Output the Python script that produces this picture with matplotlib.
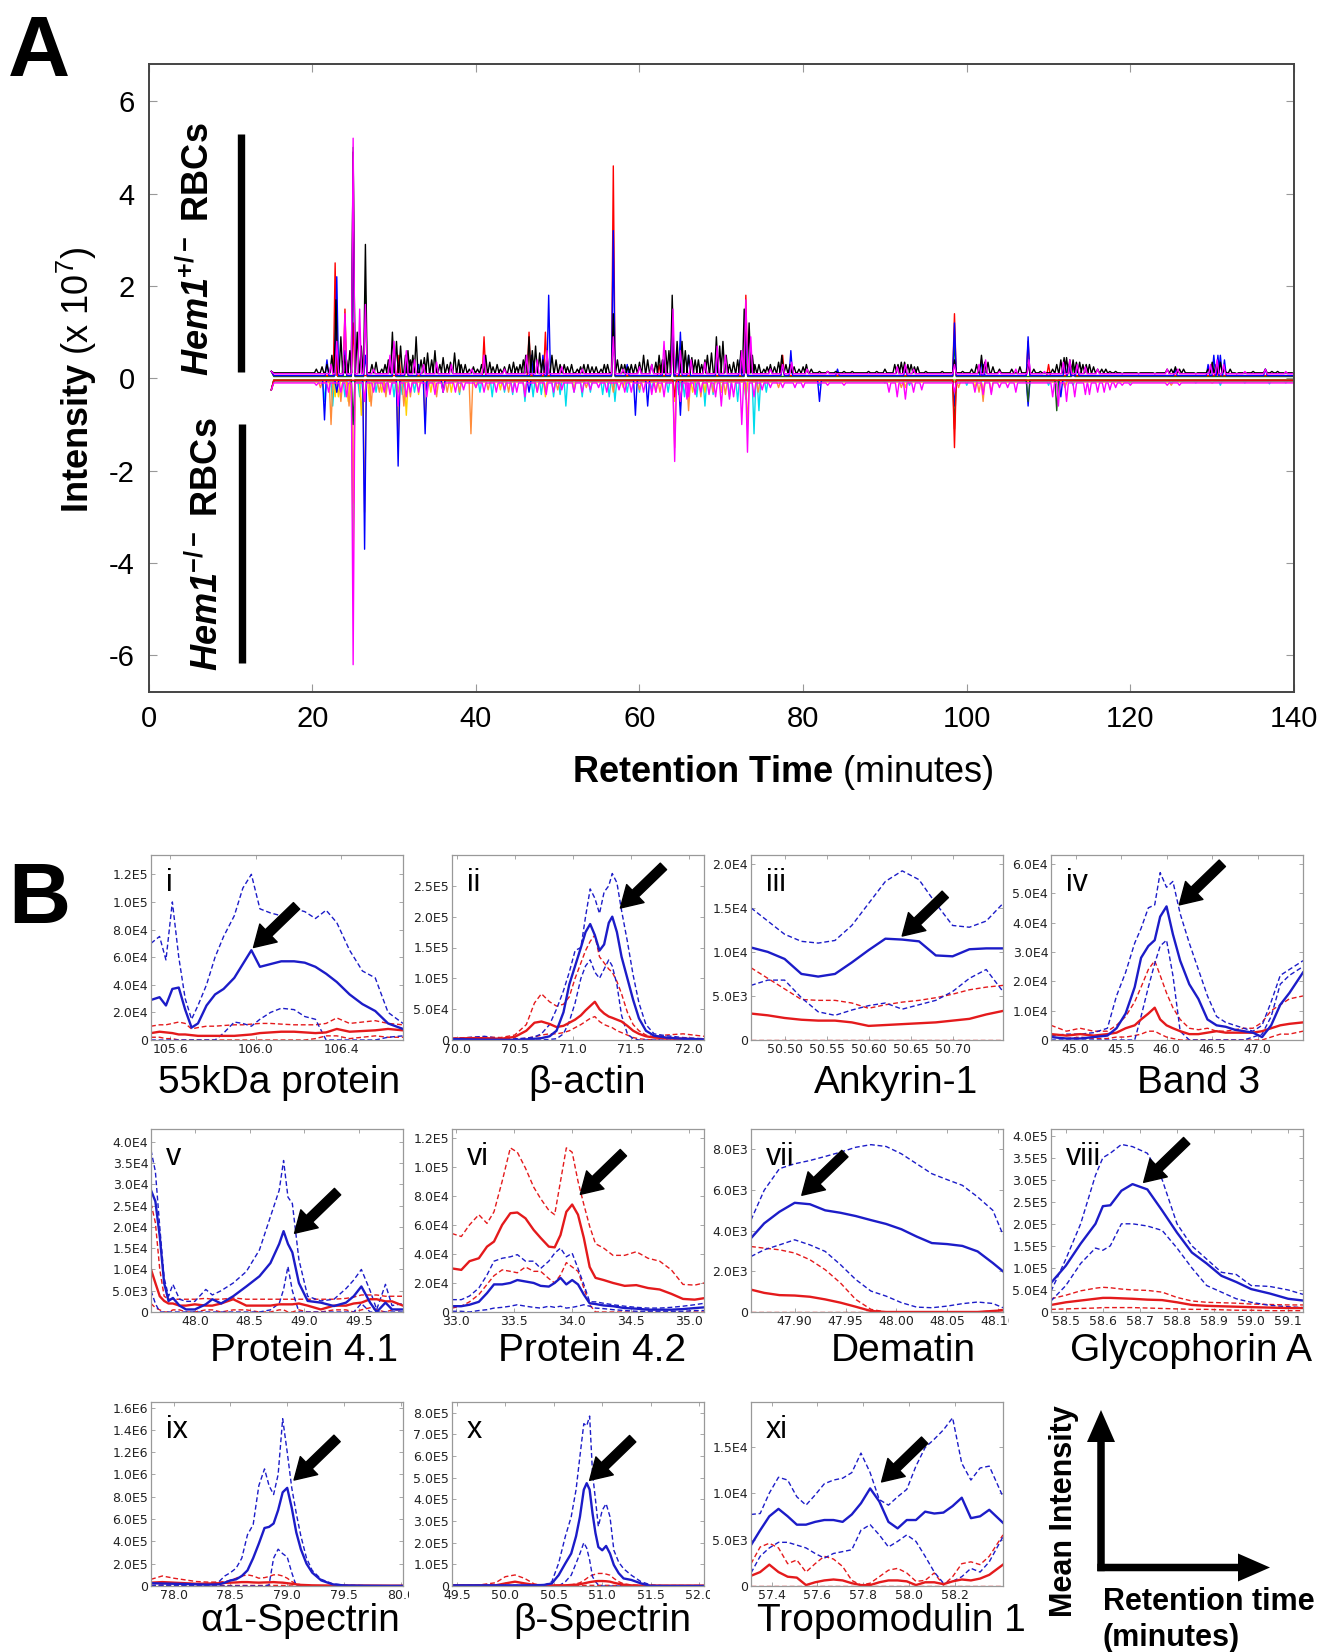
import matplotlib
matplotlib.use("Agg")
import matplotlib.pyplot as plt
from matplotlib.ticker import FixedLocator, FuncFormatter, FormatStrFormatter
from matplotlib.transforms import Bbox, TransformedBbox
from matplotlib.patches import FancyArrow

# region DATA - panel A (peak lists: retention time in min, intensity in 1e7)
black_peaks = [(21.8, .3), (22.4, .5), (22.9, 1.7), (23.5, .9), (24.2, .4), (25.0, 4.9), (25.5, 1.0), (26.5, 2.9),
               (27.3, .3), (28.5, .2), (29.3, .4), (29.8, 1.0), (30.3, .8), (30.8, .7), (31.4, .5), (32.0, .4),
               (32.7, .9), (33.3, .4), (34.1, .55), (35.0, .6), (35.6, .3), (36.5, .3), (37.4, .55), (38.2, .3),
               (39.2, .2), (40.2, .2), (41.2, .5), (42.1, .25), (43.0, .2), (44.1, .3), (45.0, .25), (45.8, .4),
               (46.5, .9), (47.3, .7), (48.2, .4), (49.3, .5), (50.3, .3), (51.2, .25), (52.4, .2), (53.2, .3),
               (54.2, .25), (55.3, .2), (56.1, .3), (56.8, 1.4), (57.8, .3), (58.6, .25), (59.5, .3), (60.5, .5),
               (61.5, .3), (62.4, .5), (63.2, .6), (64.0, 1.8), (64.6, .8), (65.2, .8), (66.0, .5), (66.8, .4),
               (67.6, .3), (68.3, .5), (69.4, .9), (70.2, .8), (71.0, .3), (72.0, .4), (72.8, 1.5), (73.4, 1.2),
               (74.1, .3), (75.2, .2), (76.5, .25), (77.4, .5), (78.4, .3), (79.5, .2), (80.4, .3), (82.0, .15),
               (84.0, .15), (86.0, .15), (88.0, .15), (90.0, .2), (91.2, .3), (92.0, .35), (92.8, .3), (93.6, .25),
               (95.0, .15), (97.0, .15), (98.5, .4), (101.2, .3), (101.8, .5), (102.6, .35), (104.0, .2),
               (105.5, .2), (106.5, .25), (107.5, .3), (109.0, .15), (110.5, .2), (111.5, .4), (112.2, .45),
               (113.0, .4), (113.8, .35), (114.6, .3), (115.5, .25), (116.5, .2), (117.5, .15), (119.0, .1),
               (121.0, .1), (123.0, .1), (124.5, .2), (125.5, .25), (126.5, .2), (128.0, .1), (129.5, .2),
               (130.5, .3), (131.5, .2), (133.0, .1), (135.0, .15), (136.5, .2), (138.0, .15), (140.0, .1)]
black_small_peaks = [(20.5, .2), (21.2, .25), (23.9, .5), (24.6, .6), (26.0, .7), (27.8, .35), (28.9, .3),
                     (31.7, .6), (32.3, .5), (33.7, .45), (34.6, .4), (36.0, .45), (36.9, .35), (37.9, .4),
                     (38.7, .3), (39.7, .25), (40.7, .3), (41.7, .35), (42.6, .3), (43.5, .25), (44.6, .35),
                     (45.4, .3), (46.1, .5), (46.9, .6), (47.8, .55), (48.7, .5), (49.8, .4), (50.8, .3), (51.7, .3),
                     (52.8, .25), (53.7, .3), (54.7, .25), (55.7, .3), (57.3, .4), (58.2, .3), (59.0, .3),
                     (60.0, .35), (61.0, .4), (62.0, .35), (62.8, .4), (63.6, .6), (65.6, .6), (66.4, .45),
                     (67.2, .4), (68.0, .4), (68.8, .55), (69.8, .7), (70.6, .5), (71.5, .35), (72.4, .6), (73.8, .5),
                     (74.6, .3), (75.6, .25), (76.0, .3), (77.0, .35), (77.9, .3), (78.9, .25), (80.0, .25),
                     (81.0, .2), (83.0, .15), (85.0, .15), (87.0, .12), (89.0, .15), (91.6, .3), (92.4, .35),
                     (93.2, .3), (94.0, .25), (96.0, .12), (99.5, .15), (100.6, .2), (102.2, .35), (103.2, .25),
                     (108.2, .2), (111.0, .3), (111.9, .45), (112.6, .4), (113.4, .35), (114.2, .3), (115.0, .3),
                     (116.0, .2), (117.0, .2), (118.2, .15), (125.0, .2), (126.0, .2), (130.0, .35), (131.0, .35),
                     (132.2, .2), (134.0, .12), (137.3, .15), (139.0, .12)]
magenta_peaks = [(22.3, .3), (23.0, .8), (24.0, 1.4), (25.0, 5.2), (25.8, 1.5), (26.5, 1.6), (27.5, .2), (29.5, .5),
                 (30.0, .8), (31.5, .6), (32.5, .4), (33.6, .3), (35.2, .35), (37.0, .3), (39.5, .2), (41.0, .5),
                 (43.5, .2), (46.2, .5), (47.5, .4), (48.7, .6), (50.5, .25), (53.0, .2), (56.8, .9), (58.0, .2),
                 (60.0, .25), (61.5, .3), (63.0, .8), (64.1, 1.5), (65.0, .6), (66.3, .4), (68.0, .35), (69.5, .7),
                 (70.5, .5), (72.5, .6), (73.0, 1.7), (73.6, .9), (76.0, .2), (77.5, .3), (78.6, .35), (80.5, .2),
                 (83.0, .15), (87.0, .1), (91.5, .25), (92.5, .3), (93.5, .2), (96.0, .1), (98.5, .3), (101.5, .3),
                 (102.3, .4), (104.0, .15), (106.0, .2), (107.6, .4), (109.5, .15), (111.8, .35), (112.6, .4),
                 (113.5, .3), (114.5, .25), (116.0, .2), (118.0, .1), (124.5, .2), (125.8, .2), (129.8, .3),
                 (130.6, .4), (131.4, .3), (134.0, .15), (136.5, .2), (139.0, .15)]
red_peaks = [(22.8, 2.5), (24.0, 1.5), (25.0, 1.2), (30.6, .5), (31.5, .5), (41.0, .9), (46.5, 1.0), (48.5, 1.0),
             (56.8, 4.6), (62.4, .3), (64.0, .8), (73.0, 1.8), (77.5, .5), (98.5, 1.4), (107.5, .8), (110.0, .3),
             (112.5, .25), (130.5, .3)]
blue_peaks = [(21.8, .4), (23.0, 2.2), (24.0, .6), (25.0, 4.0), (26.5, .5), (30.0, .4), (31.5, .4), (33.0, .3),
              (46.8, .5), (48.2, .5), (48.9, 1.8), (56.8, 3.2), (58.5, .3), (63.0, .4), (64.0, 1.0), (64.6, .6),
              (65.0, 1.0), (66.0, .5), (69.5, .5), (72.3, .4), (73.0, .9), (77.5, .3), (78.5, .6), (84.2, .2),
              (92.5, .25), (98.5, 1.2), (101.8, .4), (102.0, .3), (107.5, .9), (112.0, .35), (112.5, .3),
              (113.5, .3), (125.5, .2), (129.5, .3), (130.2, .5), (130.7, .5), (131.0, .5), (131.5, .4),
              (136.5, .2)]
green_peaks = [(22.9, 1.0), (25.0, 5.0), (26.5, 1.8), (30.0, .5), (56.8, 1.0), (64.0, 1.2), (73.0, 1.0), (98.5, .8),
               (113.0, .3)]

neg_magenta_peaks = [(22.0, -.3), (25.0, -6.2), (26.4, -.5), (27.5, -.3), (30.5, -.6), (32.0, -.3), (34.0, -.4),
                     (36.0, -.3), (41.0, -.3), (44.5, -.3), (46.0, -.4), (47.5, -.3), (53.0, -.3), (55.0, -.2),
                     (59.0, -.3), (62.0, -.3), (64.3, -1.8), (66.0, -.4), (67.5, -.3), (70.0, -.6), (71.5, -.4),
                     (72.5, -1.0), (73.2, -1.6), (76.0, -.2), (80.0, -.2), (85.0, -.15), (91.5, -.4), (92.5, -.45),
                     (93.5, -.3), (98.5, -.3), (102.0, -.35), (104.0, -.2), (106.0, -.3), (111.2, -.6),
                     (112.2, -.5), (113.2, -.4), (114.5, -.35), (116.0, -.3), (117.5, -.25), (119.0, -.15),
                     (124.5, -.15), (130.0, -.1)]
neg_magenta_small_peaks = [(20.5, -.15), (23.5, -.3), (24.2, -.4), (28.8, -.3), (29.5, -.35), (31.5, -.4),
                           (33.0, -.3), (35.0, -.35), (37.5, -.3), (38.5, -.25), (40.0, -.2), (42.5, -.3),
                           (43.5, -.25), (45.0, -.3), (48.6, -.35), (49.5, -.3), (50.5, -.25), (52.0, -.3),
                           (54.0, -.25), (56.0, -.3), (57.5, -.25), (58.2, -.3), (60.5, -.3), (61.5, -.35),
                           (63.0, -.4), (65.0, -.5), (65.8, -.45), (66.8, -.35), (68.5, -.35), (69.3, -.4),
                           (71.0, -.45), (74.0, -.4), (75.0, -.25), (77.5, -.2), (79.0, -.2), (83.0, -.15),
                           (90.5, -.3), (94.5, -.25), (101.0, -.3), (103.0, -.35), (105.0, -.2), (110.5, -.4),
                           (115.0, -.35), (116.8, -.3), (118.2, -.2), (120.0, -.15), (126.0, -.15)]
neg_cyan_peaks = [(21.5, -.5), (22.5, -.6), (23.0, -.3), (24.0, -.4), (25.8, -.4), (27.8, -.3), (29.0, -.3),
                  (30.0, -.4), (31.0, -.35), (32.5, -.3), (34.0, -.3), (36.0, -.3), (38.0, -.35), (40.5, -.3),
                  (42.0, -.4), (43.5, -.3), (44.5, -.35), (46.0, -.5), (47.0, -.4), (48.0, -.35), (49.5, -.4),
                  (50.3, -.35), (51.0, -.6), (52.0, -.3), (53.0, -.4), (54.0, -.3), (55.5, -.35), (56.3, -.4),
                  (57.0, -.5), (58.5, -.3), (60.0, -.3), (61.5, -.25), (63.5, -.3), (64.8, -.35), (65.5, -.4),
                  (67.0, -.4), (68.0, -.6), (69.0, -.35), (70.0, -.3), (71.0, -.4), (72.0, -.5), (73.0, -.45),
                  (74.0, -1.2), (74.6, -.7), (75.5, -.3), (82.0, -.15), (90.0, -.1), (93.0, -.15), (100.0, -.15),
                  (110.0, -.15), (113.0, -.15), (120.0, -.1), (125.0, -.1), (128.0, -.1), (131.0, -.15),
                  (134.0, -.1), (137.0, -.12), (139.0, -.1)]
neg_orange_peaks = [(21.0, -.2), (22.3, -1.0), (23.5, -.5), (24.5, -.6), (25.0, -2.7), (26.4, -2.9), (27.2, -.6),
                    (28.2, -.3), (29.0, -.4), (30.5, -1.4), (31.2, -.6), (32.0, -.4), (33.8, -.9), (35.2, -.4),
                    (36.5, -.3), (38.0, -.3), (39.4, -1.2), (41.5, -.25), (44.0, -.3), (46.0, -.3), (48.5, -.3),
                    (50.0, -.25), (53.5, -.2), (56.8, -.3), (60.0, -.25), (62.5, -.3), (64.3, -1.5), (66.0, -.7),
                    (67.5, -.4), (69.0, -.3), (70.5, -.35), (73.2, -1.0), (74.5, -.3), (77.0, -.2), (92.0, -.2),
                    (99.0, -.2), (101.5, -.3), (102.0, -.5), (103.0, -.3), (112.0, -.2), (125.0, -.15),
                    (130.0, -.1)]
neg_yellow_peaks = [(22.8, -.4), (23.2, -.4), (24.4, -.5), (25.0, -4.1), (26.0, -.8), (27.0, -.5), (28.5, -.3),
                    (30.5, -1.2), (31.5, -.8), (33.0, -.35), (34.5, -.3), (36.0, -.3), (37.0, -.3), (40.0, -.2),
                    (43.0, -.25), (47.5, -.3), (48.5, -.4), (52.0, -.25), (58.0, -.2), (62.0, -.3), (64.3, -.5),
                    (65.0, -.6), (66.5, -.3), (68.0, -.3), (70.0, -.3), (73.0, -.4), (92.5, -.2), (101.0, -.2),
                    (102.0, -.3), (112.0, -.15)]
neg_blue_peaks = [(21.5, -.9), (23.0, -.3), (26.4, -3.7), (30.5, -1.9), (33.8, -1.2), (36.0, -.3), (46.5, -.3),
                  (59.5, -.8), (61.0, -.6), (65.0, -.8), (82.0, -.5), (98.5, -.6), (107.5, -.6), (111.5, -.4),
                  (140.5, -.2)]
neg_lime_peaks = [(25.0, -3.5), (26.4, -.5), (30.5, -.3), (64.3, -.3)]
neg_dark_peaks = [(25.0, -1.0), (98.5, -1.1), (107.5, -.5), (111.0, -.7)]
neg_red_peaks = [(98.5, -1.5), (64.3, -.4)]
# endregion

# region DATA - panel B (mean and bounds for Hem1+/- (blue) and Hem1-/- (red))
p1_x = [105.51, 105.55, 105.58, 105.61, 105.64, 105.67, 105.70, 105.73, 105.77, 105.81, 105.85, 105.90, 105.94,
        105.98, 106.02, 106.07, 106.12, 106.18, 106.23, 106.28, 106.33, 106.38, 106.44, 106.50, 106.56, 106.62,
        106.69]
p1_blue = [2.9e4, 3.1e4, 2.5e4, 3.7e4, 3.8e4, 2.2e4, 9e3, 1.2e4, 2.5e4, 3.3e4, 3.7e4, 4.5e4, 5.5e4, 6.5e4, 5.3e4,
           5.5e4, 5.7e4, 5.7e4, 5.6e4, 5.3e4, 4.8e4, 4.2e4, 3.3e4, 2.6e4, 2.1e4, 1.2e4, 8e3]
p1_blue_hi = [7.0e4, 7.5e4, 5.8e4, 1.0e5, 6.0e4, 3.0e4, 1.5e4, 2.5e4, 4.0e4, 6.0e4, 7.5e4, 9.0e4, 1.1e5, 1.2e5, 9.5e4,
              9.2e4, 9.0e4, 9.5e4, 9.3e4, 8.8e4, 9.4e4, 8.5e4, 6.5e4, 5.0e4, 4.5e4, 2.0e4, 1.2e4]
p1_blue_lo = [0, 0, 0, 0, 0, 0, 0, 0, 0, 0, 5e3, 1.3e4, 1.2e4, 1.0e4, 1.5e4, 2.0e4, 2.3e4, 2.2e4, 1.7e4, 1.5e4, 0, 0,
              0, 0, 0, 2e3, 3e3]
p1_red = [5e3, 6e3, 5.5e3, 5e3, 4e3, 4e3, 3.5e3, 3e3, 3e3, 3e3, 3e3, 3e3, 3.5e3, 4e3, 5e3, 5.5e3, 6e3, 6e3, 5.5e3,
          5e3, 5.5e3, 8e3, 6e3, 6.5e3, 7e3, 8e3, 7e3]
p1_red_hi = [1.0e4, 1.1e4, 1.1e4, 1.2e4, 1.3e4, 1.2e4, 8e3, 9e3, 1.0e4, 1.0e4, 1.05e4, 1.1e4, 1.1e4, 1.15e4, 1.2e4,
             1.2e4, 1.15e4, 1.1e4, 1.1e4, 1.1e4, 1.2e4, 1.6e4, 1.2e4, 1.3e4, 1.4e4, 1.2e4, 1.1e4]
p1_red_lo = [2e3, 2e3, 1e3, 1e3, 0, 0, 0, 0, 0, 0, 0, 0, 0, 0, 0, 0, 0, 0, 0, 1e3, 3e3, 3e3, 1e3, 2e3, 3e3, 2e3, 2e3]

p2_x = [69.96, 70.1, 70.24, 70.38, 70.5, 70.6, 70.67, 70.73, 70.8, 70.86, 70.92, 70.97, 71.02, 71.07, 71.11, 71.15,
        71.19, 71.23, 71.27, 71.31, 71.34, 71.38, 71.42, 71.47, 71.52, 71.57, 71.63, 71.7, 71.8, 71.95, 72.13]
p2_blue = [1.5e3, 1e3, 5e2, 3e2, 0, 1e3, 2e3, 3e3, 6e3, 1.5e4, 4.5e4, 9e4, 1.2e5, 1.5e5, 1.75e5, 1.88e5, 1.7e5,
           1.45e5, 1.55e5, 1.9e5, 2.0e5, 1.75e5, 1.35e5, 1.0e5, 6.5e4, 3.5e4, 1.5e4, 7e3, 4e3, 2e3, 1e3]
p2_blue_hi = [2e3, 4e3, 6e3, 2e3, 2e3, 3e3, 5e3, 1e4, 2.5e4, 5e4, 8e4, 1.1e5, 1.45e5, 1.5e5, 2.0e5, 2.45e5, 2.3e5,
              2.05e5, 2.4e5, 2.5e5, 2.7e5, 2.55e5, 2.1e5, 1.6e5, 1.05e5, 6e4, 2.5e4, 1e4, 7e3, 4e3, 2e3]
p2_blue_lo = [0, 0, 0, 0, 0, 0, 0, 0, 1e3, 2e3, 1e4, 3e4, 6e4, 1.0e5, 1.2e5, 1.3e5, 1.1e5, 1.0e5, 1.15e5, 1.3e5,
              1.2e5, 9e4, 4e4, 1e4, 2e3, 0, 0, 0, 0, 0, 0]
p2_red = [2e3, 3e3, 3e3, 2e3, 5e3, 1.5e4, 2.8e4, 3.0e4, 2.6e4, 2.1e4, 2.3e4, 2.8e4, 3.3e4, 4.0e4, 4.8e4, 5.5e4, 6.2e4,
          5.0e4, 4.3e4, 3.8e4, 3.6e4, 3.3e4, 3.0e4, 2.3e4, 1.5e4, 1.0e4, 6e3, 4e3, 3e3, 2e3, 1e3]
p2_red_hi = [3e3, 4e3, 5e3, 4e3, 8e3, 2.5e4, 6e4, 7.5e4, 6.2e4, 5.5e4, 5.8e4, 7e4, 1.0e5, 1.25e5, 1.45e5, 1.6e5,
             1.7e5, 1.35e5, 1.25e5, 1.15e5, 1.1e5, 9.5e4, 7.5e4, 4.5e4, 2.5e4, 1.5e4, 8e3, 5e3, 8e3, 1e4, 6e3]
p2_red_lo = [0, 1e3, 1e3, 0, 1e3, 3e3, 5e3, 8e3, 1e4, 1e4, 1.2e4, 1.5e4, 2e4, 2.5e4, 3e4, 3.5e4, 3.8e4, 3e4, 2.5e4,
             2.2e4, 2e4, 1.5e4, 1.2e4, 8e3, 4e3, 2e3, 1e3, 0, 0, 0, 0]

p3_x = [50.46, 50.48, 50.50, 50.52, 50.54, 50.56, 50.58, 50.60, 50.62, 50.64, 50.66, 50.68, 50.70, 50.72, 50.74,
        50.76]
p3_blue = [1.05e4, 1.0e4, 9.2e3, 7.5e3, 7.2e3, 7.5e3, 8.8e3, 1.02e4, 1.15e4, 1.14e4, 1.12e4, 9.6e3, 9.5e3, 1.03e4,
           1.04e4, 1.04e4]
p3_blue_hi = [1.5e4, 1.35e4, 1.2e4, 1.12e4, 1.1e4, 1.13e4, 1.3e4, 1.55e4, 1.8e4, 1.92e4, 1.82e4, 1.55e4, 1.3e4,
              1.28e4, 1.35e4, 1.55e4]
p3_blue_lo = [6.2e3, 6.8e3, 6.8e3, 4.8e3, 3.2e3, 2.8e3, 3.4e3, 3.9e3, 4.2e3, 3.5e3, 4.0e3, 4.5e3, 5.5e3, 7e3, 8e3,
              5.5e3]
p3_red = [3.0e3, 2.8e3, 2.5e3, 2.3e3, 2.2e3, 2.2e3, 2.0e3, 1.6e3, 1.7e3, 1.8e3, 1.9e3, 2.0e3, 2.2e3, 2.4e3, 2.9e3,
          3.3e3]
p3_red_hi = [8.2e3, 7e3, 5.8e3, 4.6e3, 4.5e3, 4.5e3, 4.2e3, 3.6e3, 4e3, 4.3e3, 4.5e3, 4.8e3, 5.2e3, 5.7e3, 6e3, 6.2e3]
p3_red_lo = [0, 0, 0, 0, 0, 0, 0, 0, 0, 0, 0, 0, 0, 0, 0, 0]

p4_x = [44.73, 44.9, 45.05, 45.2, 45.35, 45.45, 45.55, 45.65, 45.72, 45.8, 45.87, 45.93, 46.0, 46.07, 46.15, 46.25,
        46.35, 46.45, 46.55, 46.65, 46.75, 46.85, 46.95, 47.05, 47.15, 47.25, 47.35, 47.5]
p4_blue = [1e3, 5e2, 5e2, 1e3, 1.5e3, 4e3, 9e3, 1.8e4, 2.8e4, 3.2e4, 3.4e4, 4.2e4, 4.55e4, 3.6e4, 2.7e4, 1.9e4, 1.4e4,
           7e3, 5e3, 4.5e3, 3.5e3, 3e3, 2.5e3, 1e3, 5e3, 1.2e4, 1.6e4, 2.3e4]
p4_blue_hi = [1.5e3, 2e3, 2e3, 2.5e3, 4e3, 1.5e4, 2.3e4, 3.3e4, 3.8e4, 4.5e4, 4.6e4, 5.7e4, 5.2e4, 5.4e4, 4.3e4,
              3.3e4, 2.4e4, 1.5e4, 8e3, 6e3, 5e3, 4e3, 3e3, 5e3, 1.3e4, 2.2e4, 2.4e4, 2.7e4]
p4_blue_lo = [0, 0, 0, 0, 0, 0, 0, 0, 8e3, 1.8e4, 2.6e4, 3.2e4, 3.4e4, 2.2e4, 3e3, 0, 0, 0, 0, 0, 0, 0, 1e3, 2e3, 8e3,
              1.9e4, 2.2e4, 2.5e4]
p4_red = [2e3, 1.5e3, 2e3, 1.5e3, 2e3, 2.5e3, 4e3, 5e3, 7e3, 9e3, 1.1e4, 7e3, 5e3, 4e3, 3e3, 2e3, 2e3, 2.5e3, 3e3,
          2.5e3, 2.5e3, 2.5e3, 2.5e3, 3e3, 4e3, 5e3, 5.5e3, 6e3]
p4_red_hi = [5e3, 3e3, 4e3, 3e3, 3e3, 5e3, 8e3, 1.3e4, 1.8e4, 2.4e4, 2.7e4, 2.2e4, 1.6e4, 1.1e4, 7e3, 4e3, 3.5e3,
             4e3, 3e3, 3e3, 3.5e3, 4e3, 4e3, 6e3, 1e4, 1.2e4, 1.4e4, 1.5e4]
p4_red_lo = [1e3, 5e2, 1e3, 5e2, 5e2, 1e3, 1e3, 1.5e3, 2e3, 3e3, 3e3, 2e3, 1e3, 5e2, 0, 0, 0, 0, 0, 0, 0, 0, 0, 0,
             1e3, 2e3, 2e3, 3e3]

p5_x = [47.6, 47.64, 47.68, 47.72, 47.76, 47.8, 47.86, 47.92, 48.0, 48.1, 48.16, 48.24, 48.35, 48.47, 48.59, 48.69,
        48.77, 48.81, 48.85, 48.89, 48.95, 49.03, 49.15, 49.27, 49.38, 49.45, 49.52, 49.6, 49.66, 49.74, 49.8, 49.9]
p5_blue = [2.86e4, 2.6e4, 1.77e4, 6.8e3, 2.6e3, 3.3e3, 1.5e3, 6e2, 6e2, 1.8e3, 3e3, 2e3, 3.7e3, 6e3, 8.4e3, 1.15e4,
           1.6e4, 1.9e4, 1.6e4, 1.4e4, 6.8e3, 2.6e3, 2.2e3, 1.4e3, 2.2e3, 3.7e3, 6e3, 2.2e3, 0, 2.2e3, 6e2, 6e2]
p5_blue_hi = [3.8e4, 3.3e4, 2e4, 8e3, 3.7e3, 6.5e3, 3e3, 2.5e3, 2.5e3, 5.3e3, 4e3, 5e3, 6.8e3, 9.5e3, 1.46e4, 2.24e4,
              2.86e4, 3.56e4, 2.7e4, 2.55e4, 1.23e4, 3.7e3, 2.6e3, 3e3, 5.5e3, 7.5e3, 1e4, 5e3, 6e2, 6.5e3, 1.5e3,
              2e3]
p5_blue_lo = [5e3, 2e3, 0, 0, 0, 0, 0, 0, 0, 0, 0, 0, 0, 0, 0, 5e2, 2e3, 5.3e3, 1.07e4, 5e3, 0, 0, 0, 0, 0, 0, 2e3, 0,
              0, 0, 0, 0]
p5_red = [1.0e4, 6.8e3, 3.7e3, 2.6e3, 2e3, 2e3, 1.5e3, 1.5e3, 1.8e3, 1.5e3, 1.5e3, 2e3, 3e3, 1.5e3, 1.5e3, 1.5e3,
          1.8e3, 1.8e3, 1.8e3, 1.8e3, 2e3, 1.5e3, 6e2, 1.5e3, 1.5e3, 2e3, 2.2e3, 3e3, 3e3, 2.5e3, 2.5e3, 1.5e3]
p5_red_hi = [2.55e4, 2.1e4, 1e4, 3.7e3, 3e3, 3e3, 3e3, 3e3, 3e3, 3.2e3, 3e3, 3e3, 3.3e3, 3e3, 3e3, 3e3, 3e3, 3e3,
             3e3, 3e3, 3e3, 3e3, 3e3, 3e3, 3.2e3, 3.5e3, 4e3, 4e3, 4e3, 3.7e3, 3.7e3, 3.7e3]
p5_red_lo = [2e3, 1e3, 5e2, 0, 0, 5e2, 5e2, 0, 0, 5e2, 5e2, 0, 5e2, 5e2, 0, 0, 5e2, 5e2, 0, 0, 5e2, 0, 0, 5e2, 5e2, 0,
             5e2, 1e3, 5e2, 0, 5e2, 5e2]

p6_x = [32.97, 33.05, 33.12, 33.2, 33.27, 33.33, 33.4, 33.47, 33.53, 33.6, 33.67, 33.73, 33.8, 33.85, 33.9, 33.95,
        34.0, 34.05, 34.1, 34.15, 34.2, 34.27, 34.35, 34.45, 34.55, 34.65, 34.75, 34.85, 34.95, 35.05, 35.13]
p6_blue = [4e3, 4e3, 5e3, 7e3, 1.3e4, 1.9e4, 1.9e4, 2.0e4, 2.2e4, 2.1e4, 2.0e4, 1.8e4, 1.75e4, 2e4, 2.35e4, 1.9e4,
           2.2e4, 1.9e4, 1.2e4, 6e3, 5.5e3, 4.5e3, 4e3, 2.7e3, 2.3e3, 1.6e3, 1.6e3, 1.6e3, 2e3, 2.7e3, 3.2e3]
p6_blue_hi = [8.5e3, 8.5e3, 1.1e4, 1.65e4, 2.55e4, 3.5e4, 3.7e4, 3.8e4, 3.95e4, 3.5e4, 3.5e4, 3.0e4, 3.5e4, 4.05e4,
              4.4e4, 3.8e4, 4.05e4, 3.0e4, 1.9e4, 7e3, 7e3, 6e3, 5e3, 4e3, 3.2e3, 2.7e3, 2.7e3, 3.2e3, 4e3, 5e3, 6e3]
p6_blue_lo = [5e2, 5e2, 0, 1e3, 1.6e3, 2.7e3, 3.2e3, 4e3, 5e3, 4e3, 3.2e3, 2.7e3, 4e3, 3.2e3, 4e3, 2.7e3, 3.2e3, 4e3,
              5e3, 4e3, 2.7e3, 2.3e3, 1.6e3, 1e3, 5e2, 5e2, 5e2, 5e2, 5e2, 1e3, 1e3]
p6_red = [3.0e4, 2.9e4, 3.5e4, 3.7e4, 4.5e4, 4.85e4, 6.0e4, 6.8e4, 6.85e4, 6.45e4, 5.65e4, 5.1e4, 4.5e4, 4.45e4,
          5.3e4, 6.9e4, 7.4e4, 6.7e4, 5.1e4, 3.1e4, 2.35e4, 2.2e4, 2.0e4, 1.8e4, 1.85e4, 1.65e4, 1.55e4, 1.25e4, 9e3,
          8.5e3, 9.5e3]
p6_red_hi = [5.4e4, 5.2e4, 6.0e4, 6.7e4, 6.1e4, 6.9e4, 9.0e4, 1.13e5, 1.1e5, 9.9e4, 8.6e4, 7.8e4, 7.0e4, 6.7e4, 9.0e4,
             1.13e5, 1.1e5, 9e4, 7.4e4, 5.9e4, 4.7e4, 4.4e4, 3.9e4, 3.9e4, 4.15e4, 3.7e4, 3.5e4, 2.9e4, 1.9e4,
             1.85e4, 2.0e4]
p6_red_lo = [2.7e3, 4e3, 7e3, 1.2e4, 1.9e4, 2.5e4, 2.9e4, 2.8e4, 2.7e4, 3.1e4, 2.8e4, 2.8e4, 2.3e4, 2e4, 2.55e4,
             3.4e4, 3.1e4, 2.8e4, 1.65e4, 5e3, 0, 0, 0, 0, 0, 0, 0, 0, 0, 0, 0]

p7_x = [47.857, 47.87, 47.885, 47.90, 47.915, 47.93, 47.945, 47.96, 47.975, 47.99, 48.005, 48.02, 48.035, 48.05,
        48.065, 48.08, 48.095, 48.105]
p7_blue = [3.63e3, 4.36e3, 4.93e3, 5.37e3, 5.3e3, 5.0e3, 4.88e3, 4.72e3, 4.52e3, 4.33e3, 4.07e3, 3.71e3, 3.39e3,
           3.34e3, 3.25e3, 2.98e3, 2.41e3, 2.0e3]
p7_blue_hi = [4.52e3, 5.99e3, 7.05e3, 7.29e3, 7.45e3, 7.65e3, 7.86e3, 8.1e3, 8.23e3, 8.14e3, 7.78e3, 7.29e3, 6.8e3,
              6.51e3, 6.23e3, 5.66e3, 5.0e3, 3.8e3]
p7_blue_lo = [2.73e3, 3.06e3, 3.3e3, 3.55e3, 3.3e3, 2.98e3, 2.33e3, 1.6e3, 1.03e3, 7.8e2, 4.6e2, 2.4e2, 2.1e2, 2.9e2,
              4.1e2, 4.9e2, 4.2e2, 2.1e2]
p7_red = [1.1e3, 9.4e2, 8.3e2, 8.1e2, 7.5e2, 6.2e2, 4.6e2, 2.6e2, 5e1, 0, 0, 0, 0, 0, 0, 0, 5e1, 8e1]
p7_red_hi = [3.22e3, 3.14e3, 3.06e3, 2.9e3, 2.57e3, 2.08e3, 1.43e3, 6.2e2, 1.3e2, 0, 0, 0, 0, 0, 0, 0, 5e1, 1.3e2]
p7_red_lo = [0, 0, 0, 0, 0, 0, 0, 0, 0, 0, 0, 0, 0, 0, 0, 0, 0, 0]

p8_x = [58.46, 58.5, 58.54, 58.58, 58.6, 58.62, 58.65, 58.68, 58.72, 58.76, 58.8, 58.84, 58.88, 58.92, 58.96, 59.0,
        59.05, 59.1, 59.14]
p8_blue = [6.6e4, 1.05e5, 1.55e5, 2.0e5, 2.4e5, 2.42e5, 2.75e5, 2.9e5, 2.78e5, 2.3e5, 1.8e5, 1.35e5, 1.1e5, 8.2e4,
           6.8e4, 5.2e4, 4.2e4, 3.0e4, 2.6e4]
p8_blue_hi = [4.7e4, 1.2e5, 2.0e5, 3.1e5, 3.5e5, 3.6e5, 3.8e5, 3.75e5, 3.6e5, 3.0e5, 2.0e5, 1.5e5, 1.2e5, 9e4, 8.5e4,
              6e4, 5.8e4, 5e4, 4e4]
p8_blue_lo = [2.5e4, 6e4, 1.1e5, 1.45e5, 1.4e5, 1.5e5, 2.0e5, 2.0e5, 1.95e5, 1.85e5, 1.45e5, 1.0e5, 6e4, 4.5e4, 3e4,
              2.2e4, 1.5e4, 1.2e4, 1.0e4]
p8_red = [1.6e4, 2.2e4, 2.6e4, 3.0e4, 3.2e4, 3.2e4, 3.1e4, 3.0e4, 2.8e4, 2.7e4, 2.2e4, 1.6e4, 1.4e4, 1.3e4, 1.2e4,
          1.1e4, 1.0e4, 9e3, 9e3]
p8_red_hi = [3e4, 3.8e4, 4.8e4, 5.4e4, 5.6e4, 5.5e4, 5.2e4, 5e4, 4.9e4, 4.5e4, 3.3e4, 2.5e4, 2.2e4, 2.1e4, 2e4, 1.8e4,
             1.7e4, 1.6e4, 1.6e4]
p8_red_lo = [6e3, 7e3, 8e3, 9e3, 1e4, 1e4, 1e4, 1e4, 9e3, 8e3, 7e3, 6e3, 6e3, 5e3, 4e3, 4e3, 3e3, 3e3, 3e3]

p9_x = [77.8, 77.9, 78.0, 78.1, 78.2, 78.3, 78.4, 78.45, 78.5, 78.55, 78.6, 78.65, 78.7, 78.75, 78.8, 78.84, 78.88,
        78.92, 78.96, 79.0, 79.04, 79.08, 79.12, 79.17, 79.22, 79.3, 79.4, 79.5, 79.7, 79.9, 80.02]
p9_blue = [2.5e4, 2.2e4, 2e4, 1.8e4, 1.5e4, 1.2e4, 1.5e4, 3e4, 5e4, 6e4, 9e4, 1.4e5, 2.5e5, 3.8e5, 5.2e5, 5.3e5, 5.6e5,
           6.8e5, 8.4e5, 8.8e5, 7.0e5, 4.8e5, 3.3e5, 2.0e5, 1.2e5, 5e4, 1.5e4, 5e3, 2e3, 1e3, 1e3]
p9_blue_hi = [5e3, 5e3, 5e3, 5e3, 5e3, 8e3, 4e4, 9e4, 1.2e5, 1.6e5, 2.5e5, 4.6e5, 5.5e5, 9.0e5, 1.05e6, 9e5, 8.2e5,
              1.0e6, 1.5e6, 1.2e6, 8.8e5, 6.5e5, 4.5e5, 2.5e5, 1.4e5, 6e4, 2e4, 8e3, 3e3, 2e3, 2e3]
p9_blue_lo = [0, 0, 0, 0, 0, 0, 0, 0, 0, 0, 0, 0, 0, 0, 0, 1e4, 2.5e5, 3.3e5, 2.9e5, 2.6e5, 1.2e5, 0, 0, 0, 0, 0, 0, 0,
              0, 0, 0]
p9_red = [3e4, 3.5e4, 3e4, 2.5e4, 2e4, 2.2e4, 2.5e4, 2.8e4, 3e4, 3.2e4, 3.5e4, 3.5e4, 3.2e4, 3e4, 3.2e4, 3.3e4, 3.5e4,
          3.2e4, 3e4, 2.5e4, 2e4, 1.5e4, 1e4, 8e3, 6e3, 5e3, 4e3, 4e3, 4e3, 3e3, 3e3]
p9_red_hi = [6e4, 9e4, 7e4, 5.5e4, 4e4, 3.5e4, 3.5e4, 4e4, 5e4, 7e4, 9e4, 1.0e5, 9e4, 7e4, 7.5e4, 8.5e4, 1.0e5, 1.0e5,
             9e4, 7e4, 4e4, 2e4, 1e4, 5e3, 3e3, 2e3, 2e3, 2e3, 2e3, 2e3, 2e3]
p9_red_lo = [5e3, 1e4, 8e3, 5e3, 5e3, 5e3, 5e3, 5e3, 5e3, 5e3, 5e3, 5e3, 5e3, 5e3, 5e3, 5e3, 5e3, 5e3, 5e3, 3e3, 0, 0,
             0, 0, 0, 0, 0, 0, 0, 0, 0]

p10_x = [49.45, 49.7, 49.9, 50.0, 50.1, 50.2, 50.3, 50.4, 50.48, 50.55, 50.62, 50.68, 50.73, 50.77, 50.81, 50.84,
         50.87, 50.9, 50.93, 50.96, 51.0, 51.04, 51.08, 51.12, 51.17, 51.22, 51.3, 51.4, 51.5, 51.7, 52.05]
p10_blue = [3e3, 3e3, 3e3, 3e3, 3e3, 3e3, 3e3, 5e3, 1.2e4, 5e4, 1.05e5, 1.5e5, 2.3e5, 3.2e5, 4.45e5, 4.75e5, 4.45e5,
            3.35e5, 2.45e5, 1.8e5, 1.65e5, 1.85e5, 1.5e5, 9.7e4, 5.9e4, 3.5e4, 2.8e4, 1.2e4, 0, 0, 0]
p10_blue_hi = [2e3, 2e3, 2e3, 2e3, 2e3, 2e3, 2e3, 3e3, 2e4, 1.05e5, 2.3e5, 3.2e5, 4.45e5, 6.0e5, 7.5e5, 7.4e5, 7.85e5,
               5.2e5, 4e5, 2.75e5, 3.5e5, 3.8e5, 3.2e5, 1.65e5, 1.1e5, 8e4, 5e4, 2e4, 5e3, 0, 0]
p10_blue_lo = [0, 0, 0, 0, 0, 0, 0, 0, 0, 0, 2e4, 5e4, 1.05e5, 1.5e5, 2.0e5, 1.75e5, 1.2e5, 4.3e4, 2e4, 5e3, 0, 0, 0, 0,
               0, 0, 0, 0, 0, 0, 0]
p10_red = [3e3, 3e3, 3e3, 1.2e4, 2e4, 1.2e4, 5e3, 3e3, 3e3, 3e3, 3e3, 5e3, 6e3, 8e3, 1.2e4, 1.5e4, 1.8e4, 2e4, 2.2e4,
           2.3e4, 2.3e4, 2.2e4, 2e4, 1.5e4, 1e4, 6e3, 3e3, 2e3, 2e3, 2e3, 2e3]
p10_red_hi = [3e3, 3e3, 1.5e4, 4.3e4, 5.1e4, 3.5e4, 9e3, 3e3, 3e3, 3e3, 3e3, 5e3, 1e4, 1.5e4, 2.5e4, 3.5e4, 4.5e4, 5e4,
              5.5e4, 5.8e4, 5.8e4, 5.5e4, 5e4, 3.5e4, 2e4, 1e4, 5e3, 2e3, 2e3, 2e3, 2e3]
p10_red_lo = [1e3, 1e3, 1e3, 2e3, 3e3, 2e3, 1e3, 1e3, 1e3, 1e3, 1e3, 1e3, 1e3, 2e3, 2e3, 3e3, 3e3, 3e3, 3e3, 3e3, 3e3,
              3e3, 3e3, 2e3, 2e3, 1e3, 1e3, 1e3, 1e3, 1e3, 1e3]

p11_x = [57.31, 57.35, 57.39, 57.43, 57.47, 57.51, 57.55, 57.59, 57.63, 57.67, 57.71, 57.75, 57.79, 57.83, 57.87,
         57.91, 57.95, 57.99, 58.03, 58.07, 58.11, 58.15, 58.19, 58.23, 58.27, 58.31, 58.35, 58.41]
p11_blue = [4.4e3, 6.0e3, 7.5e3, 8.3e3, 7.5e3, 6.6e3, 6.6e3, 6.9e3, 7.1e3, 7.1e3, 6.9e3, 7.7e3, 8.9e3, 1.05e4, 9.1e3,
            6.9e3, 6.2e3, 7.1e3, 7.1e3, 8.0e3, 7.8e3, 7.9e3, 8.6e3, 9.5e3, 7.3e3, 7.5e3, 8.2e3, 6.8e3]
p11_blue_hi = [7.7e3, 7.8e3, 1.0e4, 1.17e4, 1.14e4, 9.6e3, 8.7e3, 9.8e3, 1.1e4, 1.14e4, 1.16e4, 1.22e4, 1.43e4,
               1.22e4, 9.3e3, 8.7e3, 9.6e3, 1.04e4, 1.29e4, 1.49e4, 1.58e4, 1.68e4, 1.81e4, 1.32e4, 1.14e4, 1.27e4,
               1.29e4, 9.6e3]
p11_blue_lo = [1.4e3, 3.2e3, 4.1e3, 4.7e3, 4.7e3, 4.4e3, 4.1e3, 3.5e3, 3.0e3, 3.5e3, 3.7e3, 3.9e3, 6.0e3, 6.6e3,
               5.5e3, 4.2e3, 4.8e3, 5.5e3, 4.8e3, 3.2e3, 1.5e3, 3e2, 5e2, 1e3, 1.9e3, 1.5e3, 2.6e3, 5.3e3]
p11_red = [1.1e3, 1.5e3, 2.3e3, 1.5e3, 1e3, 9e2, 1e2, 4e2, 6e2, 7e2, 6e2, 3e2, 1e2, 1e2, 4e2, 6e2, 6e2, 5e2, 1e2, 4e2,
           4e2, 2e2, 5e2, 7e2, 6e2, 8e2, 1.2e3, 2.3e3]
p11_red_hi = [2.4e3, 4.2e3, 4.6e3, 4.1e3, 2.4e3, 2.8e3, 1.5e3, 2.4e3, 3.2e3, 2.9e3, 2.1e3, 6e2, 1e2, 3e2, 1e3, 1.7e3,
              1.9e3, 1.4e3, 5e2, 6e2, 1.4e3, 1e2, 1e3, 2.4e3, 2.6e3, 2.3e3, 3.2e3, 5.5e3]
p11_red_lo = [0, 0, 0, 0, 0, 0, 0, 0, 0, 0, 0, 0, 0, 0, 0, 0, 0, 0, 0, 0, 0, 0, 0, 0, 0, 0, 0, 0]
# endregion

# region STYLE
plt.rcParams['font.family'] = ['Liberation Sans', 'DejaVu Sans']
plt.rcParams['axes.unicode_minus'] = False
plt.rcParams['mathtext.fontset'] = 'custom'
plt.rcParams['mathtext.rm'] = 'Liberation Sans'
plt.rcParams['mathtext.it'] = 'Liberation Sans:italic'
plt.rcParams['mathtext.bf'] = 'Liberation Sans:bold'
plt.rcParams['mathtext.bfit'] = 'Liberation Sans:italic:bold'

W, H = 1330, 1652
BLUE = '#1c1cc8'
RED = '#e41a1c'
# endregion

fig = plt.figure(figsize=(W / 100, H / 100), dpi=100)


def rect(left, top, width, height):
    return [left / W, 1 - (top + height) / H, width / W, height / H]


def chrom(peaks, base, start, w=0.22):
    xs = [15.0, 15.3]
    ys = [start, base]
    for t, h in sorted(peaks):
        xs += [t - w, t, t + w]
        ys += [base, h, base]
    xs.append(140.8)
    ys.append(base)
    return xs, ys


# region PANEL A
axA = fig.add_axes(rect(148.6, 64.3, 1145.4, 628.1))
traces = [
    (neg_cyan_peaks, -0.05, '#00dcec'),
    (neg_yellow_peaks, -0.06, '#ffd000'),
    (neg_lime_peaks, -0.03, '#a8e020'),
    (neg_orange_peaks, -0.08, '#ff8c3a'),
    (neg_blue_peaks, -0.05, '#0000ff'),
    (neg_dark_peaks, -0.04, '#1a5a1a'),
    (neg_red_peaks, -0.04, '#ff0000'),
    (neg_magenta_peaks + neg_magenta_small_peaks, -0.1, '#ff00ff'),
    (green_peaks, 0.04, '#008000'),
    (red_peaks, 0.06, '#ff0000'),
    (blue_peaks, 0.06, '#0000ff'),
    (black_peaks + black_small_peaks, 0.12, '#000000'),
    (magenta_peaks, 0.1, '#ff00ff'),
]
for peaks, base, col in traces:
    start = -0.25 if base < 0 else 0.15
    xs, ys = chrom(peaks, base, start)
    axA.plot(xs, ys, color=col, lw=1.0)

axA.set_xlim(0, 140)
axA.set_ylim(-6.8, 6.8)
axA.set_xticks([0, 20, 40, 60, 80, 100, 120, 140])
axA.set_yticks([-6, -4, -2, 0, 2, 4, 6])
axA.tick_params(direction='in', length=6, width=0.8, color='#999999', top=True, right=True, labelsize=21)
axA.tick_params(axis='x', pad=9)
axA.tick_params(axis='y', pad=10)
for s in axA.spines.values():
    s.set_color('#444444')
    s.set_linewidth(1.4)
# endregion


def sci(v, pos):
    if v == 0:
        return '0'
    m, e = ('%.1E' % v).split('E')
    return '%sE%d' % (m, int(e))


# region PANEL B
col_left = [151, 452, 751, 1051]
row_top = [855, 1129, 1402]
row_h = [185, 183, 184]
title_base = [1093, 1361, 1631]

panels = [
    dict(x=p1_x, lines=(p1_blue, p1_blue_hi, p1_blue_lo, p1_red, p1_red_hi, p1_red_lo), xlim=(105.51, 106.69),
         ylim=(0, 1.34e5), xticks=[105.6, 106.0, 106.4], yticks=[0, 2e4, 4e4, 6e4, 8e4, 1e5, 1.2e5], xfmt='%.1f',
         num='i', tip=(105.99, 6.7e4), title='55kDa protein', tx=279, row=0, col=0, clip=False),
    dict(x=p2_x, lines=(p2_blue, p2_blue_hi, p2_blue_lo, p2_red, p2_red_hi, p2_red_lo), xlim=(69.96, 72.13),
         ylim=(0, 3.0e5), xticks=[70.0, 70.5, 71.0, 71.5, 72.0], yticks=[0, 5e4, 1e5, 1.5e5, 2e5, 2.5e5], xfmt='%.1f',
         num='ii', tip=(71.41, 2.14e5), title='\u03b2-actin', tx=587, row=0, col=1, clip=False),
    dict(x=p3_x, lines=(p3_blue, p3_blue_hi, p3_blue_lo, p3_red, p3_red_hi, p3_red_lo), xlim=(50.46, 50.76),
         ylim=(0, 2.1e4), xticks=[50.50, 50.55, 50.60, 50.65, 50.70], yticks=[0, 5e3, 1e4, 1.5e4, 2e4], xfmt='%.2f',
         num='iii', tip=(50.64, 1.18e4), title='Ankyrin-1', tx=896, row=0, col=2, clip=False),
    dict(x=p4_x, lines=(p4_blue, p4_blue_hi, p4_blue_lo, p4_red, p4_red_hi, p4_red_lo), xlim=(44.73, 47.5),
         ylim=(0, 6.3e4), xticks=[45.0, 45.5, 46.0, 46.5, 47.0], yticks=[0, 1e4, 2e4, 3e4, 4e4, 5e4, 6e4],
         xfmt='%.1f', num='iv', tip=(46.14, 4.6e4), title='Band 3', tx=1199, row=0, col=3, clip=False),
    dict(x=p5_x, lines=(p5_blue, p5_blue_hi, p5_blue_lo, p5_red, p5_red_hi, p5_red_lo), xlim=(47.6, 49.9),
         ylim=(0, 4.3e4), xticks=[48.0, 48.5, 49.0, 49.5],
         yticks=[0, 5e3, 1e4, 1.5e4, 2e4, 2.5e4, 3e4, 3.5e4, 4e4], xfmt='%.1f', num='v', tip=(48.91, 1.85e4),
         title='Protein 4.1', tx=304, row=1, col=0, clip=False),
    dict(x=p6_x, lines=(p6_blue, p6_blue_hi, p6_blue_lo, p6_red, p6_red_hi, p6_red_lo), xlim=(32.97, 35.13),
         ylim=(0, 1.26e5), xticks=[33.0, 33.5, 34.0, 34.5, 35.0], yticks=[0, 2e4, 4e4, 6e4, 8e4, 1e5, 1.2e5],
         xfmt='%.1f', num='vi', tip=(34.07, 8.1e4), title='Protein 4.2', tx=592, row=1, col=1, clip=False),
    dict(x=p7_x, lines=(p7_blue, p7_blue_hi, p7_blue_lo, p7_red, p7_red_hi, p7_red_lo), xlim=(47.857, 48.105),
         ylim=(0, 9.0e3), xticks=[47.90, 47.95, 48.00, 48.05, 48.10], yticks=[0, 2e3, 4e3, 6e3, 8e3], xfmt='%.2f',
         num='vii', tip=(47.907, 5.74e3), title='Dematin', tx=903, row=1, col=2, clip=True),
    dict(x=p8_x, lines=(p8_blue, p8_blue_hi, p8_blue_lo, p8_red, p8_red_hi, p8_red_lo), xlim=(58.46, 59.14),
         ylim=(0, 4.15e5), xticks=[58.5, 58.6, 58.7, 58.8, 58.9, 59.0, 59.1],
         yticks=[0, 5e4, 1e5, 1.5e5, 2e5, 2.5e5, 3e5, 3.5e5, 4e5], xfmt='%.1f', num='viii', tip=(58.71, 2.94e5),
         title='Glycophorin A', tx=1191, row=1, col=3, clip=False),
    dict(x=p9_x, lines=(p9_blue, p9_blue_hi, p9_blue_lo, p9_red, p9_red_hi, p9_red_lo), xlim=(77.8, 80.02),
         ylim=(0, 1.65e6), xticks=[78.0, 78.5, 79.0, 79.5, 80.0],
         yticks=[0, 2e5, 4e5, 6e5, 8e5, 1e6, 1.2e6, 1.4e6, 1.6e6], xfmt='%.1f', num='ix', tip=(79.06, 9.5e5),
         title='\u03b11-Spectrin', tx=300, row=2, col=0, clip=True),
    dict(x=p10_x, lines=(p10_blue, p10_blue_hi, p10_blue_lo, p10_red, p10_red_hi, p10_red_lo), xlim=(49.45, 52.05),
         ylim=(0, 8.5e5), xticks=[49.5, 50.0, 50.5, 51.0, 51.5, 52.0],
         yticks=[0, 1e5, 2e5, 3e5, 4e5, 5e5, 6e5, 7e5, 8e5], xfmt='%.1f', num='x', tip=(50.87, 4.88e5),
         title='\u03b2-Spectrin', tx=602, row=2, col=1, clip=True),
    dict(x=p11_x, lines=(p11_blue, p11_blue_hi, p11_blue_lo, p11_red, p11_red_hi, p11_red_lo), xlim=(57.31, 58.41),
         ylim=(0, 1.98e4), xticks=[57.4, 57.6, 57.8, 58.0, 58.2], yticks=[0, 5e3, 1e4, 1.5e4], xfmt='%.1f',
         num='xi', tip=(57.88, 1.12e4), title='Tropomodulin 1', tx=891, row=2, col=2, clip=False),
]

dash = (0, (3.5, 2))
for p in panels:
    left = col_left[p['col']]
    ax = fig.add_axes(rect(left, row_top[p['row']], 252, row_h[p['row']]))
    blue, blue_hi, blue_lo, red, red_hi, red_lo = p['lines']
    x = p['x']
    ax.plot(x, red_lo, color=RED, lw=1.0, ls=dash)
    ax.plot(x, red_hi, color=RED, lw=1.0, ls=dash)
    ax.plot(x, blue_lo, color=BLUE, lw=1.0, ls=dash)
    ax.plot(x, blue_hi, color=BLUE, lw=1.0, ls=dash)
    ax.plot(x, red, color=RED, lw=1.7)
    ax.plot(x, blue, color=BLUE, lw=1.7)
    ax.set_xlim(*p['xlim'])
    ax.set_ylim(*p['ylim'])
    ax.xaxis.set_major_locator(FixedLocator(p['xticks']))
    ax.yaxis.set_major_locator(FixedLocator(p['yticks']))
    ax.xaxis.set_major_formatter(FormatStrFormatter(p['xfmt']))
    ax.yaxis.set_major_formatter(FuncFormatter(sci))
    ax.tick_params(direction='in', length=3, width=0.6, color='#999999', top=True, right=True, labelsize=9,
                   labelcolor='#222222', pad=2)
    for s in ax.spines.values():
        s.set_color('#999999')
        s.set_linewidth(0.9)
    for lbl in ax.get_xticklabels() + ax.get_yticklabels():
        lbl.set_family('DejaVu Sans')
    if p['clip']:
        clip = TransformedBbox(Bbox.from_extents(0, 0, (left + 258) / W, 1), fig.transFigure)
        for lbl in ax.get_xticklabels():
            lbl.set_clip_on(True)
            lbl.set_clip_box(clip)
    ax.text(0.06, 0.93, p['num'], transform=ax.transAxes, ha='left', va='top', fontsize=22)
    ax.annotate('', xy=p['tip'], xytext=(31, 30), textcoords='offset points',
                arrowprops=dict(facecolor='black', edgecolor='black', width=6.5, headwidth=18, headlength=15,
                                shrink=0))
# endregion

# region OVERLAY TEXT (pixel coordinates, y down)
ov = fig.add_axes([0, 0, 1, 1])
ov.set_xlim(0, W)
ov.set_ylim(H, 0)
ov.axis('off')
ov.set_zorder(10)

ov.text(8, 76, 'A', fontsize=62, fontweight='bold', ha='left', va='baseline')
ov.text(8, 923, 'B', fontsize=62, fontweight='bold', ha='left', va='baseline')

ov.text(77, 380, r'$\mathbf{Intensity}$ (x 10$^{\mathrm{7}}$)', rotation=90, ha='center', va='center', fontsize=26)
ov.text(783, 782, r'$\mathbf{Retention\ Time}$ (minutes)', ha='center', va='baseline', fontsize=26)

ov.text(198, 249, r'$\mathbfit{Hem1}^{\mathbf{+/-}}$ RBCs', rotation=90, ha='center', va='center', fontsize=26,
        fontweight='bold')
ov.text(207, 544, r'$\mathbfit{Hem1}^{\mathbf{-/-}}$ RBCs', rotation=90, ha='center', va='center', fontsize=26,
        fontweight='bold')
ov.plot([241, 241], [134, 372], color='black', lw=5.3, solid_capstyle='butt')
ov.plot([242, 242], [424, 663], color='black', lw=5.3, solid_capstyle='butt')

for p in panels:
    ov.text(p['tx'], title_base[p['row']], p['title'], ha='center', va='baseline', fontsize=28)

# axis key
ov.add_patch(FancyArrow(1101, 1571.2, 0, -(1571.2 - 1410), width=7.5, head_width=28, head_length=32,
                        length_includes_head=True, color='black', lw=0))
ov.add_patch(FancyArrow(1097.3, 1567.5, 1270 - 1097.3, 0, width=7.5, head_width=28, head_length=32,
                        length_includes_head=True, color='black', lw=0))
ov.text(1064, 1511, 'Mean Intensity', rotation=90, ha='center', va='center', fontsize=22, fontweight='bold')
ov.text(1103, 1610, 'Retention time', ha='left', va='baseline', fontsize=22, fontweight='bold')
ov.text(1103, 1646, '(minutes)', ha='left', va='baseline', fontsize=22, fontweight='bold')
# endregion

fig.savefig('out.png', dpi=100)
